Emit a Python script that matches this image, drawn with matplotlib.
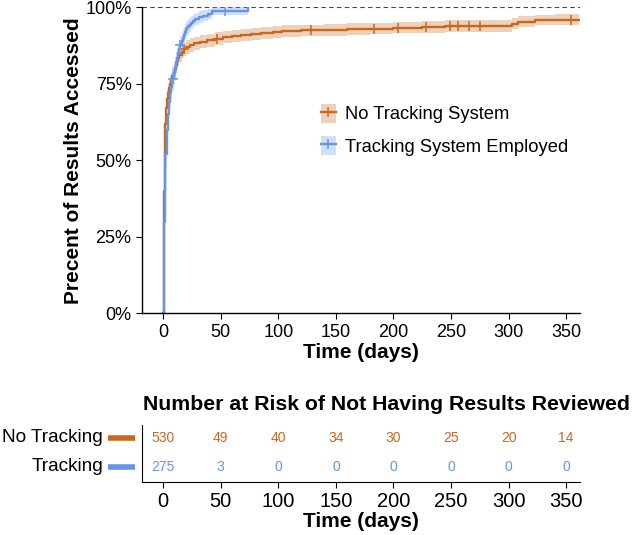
import matplotlib
matplotlib.use('Agg')
import matplotlib.pyplot as plt
from matplotlib.patches import Patch
from matplotlib.lines import Line2D
import numpy as np

plt.rcParams['font.family'] = ['Liberation Sans', 'DejaVu Sans']

ORANGE = '#C8681E'
BLUE = '#6495E8'

# cumulative % accessed, step curves
no_track_t = [0, 0.5, 1, 1.5, 2, 2.5, 3, 4, 5, 6, 7, 8, 9, 10, 11, 12, 13, 14, 16, 18, 20, 23,
              27, 32, 38, 45, 52, 60, 68, 76, 85, 95, 103, 120, 140, 160, 180, 200, 225, 245,
              303, 308, 323, 340]
no_track_p = [0, 15, 40, 55, 62, 67, 70, 72, 73.5, 75, 76.3, 77.5, 78.7, 80, 81.3, 82.5, 83.5,
              84.5, 85.5, 86.3, 87, 87.7, 88.3, 88.8, 89.3, 89.8, 90.3, 90.7, 91, 91.3, 91.6,
              91.9, 92.3, 92.5, 92.7, 92.9, 93.1, 93.4, 93.6, 93.9, 94.7, 95.3, 95.8, 96.0]
no_track_hw = [0, 2.5, 3, 3, 3, 3, 3, 2.8, 2.7, 2.6, 2.5, 2.5, 2.4, 2.4, 2.4, 2.3, 2.3, 2.3,
               2.2, 2.2, 2.2, 2.2, 2.1, 2.1, 2.1, 2.1, 2.0, 2.0, 2.0, 2.0, 2.0, 2.0, 1.9, 1.9,
               1.9, 1.9, 1.9, 1.9, 1.9, 1.9, 1.8, 1.8, 1.7, 1.7]
no_track_end = 361
no_track_cens = [18, 47, 128, 183, 204, 228, 249, 256, 266, 275, 354]

track_t = [0, 0.5, 1, 1.5, 2, 3, 4, 5, 6, 7, 8, 9, 10, 11, 12, 13, 14, 15, 16, 17, 18, 19, 20,
           21, 22, 24, 26, 28, 31, 35, 39, 42, 74]
track_p = [0, 12, 30, 45, 52, 60, 65, 69, 72, 74, 76.5, 78.5, 80.3, 82, 83.5, 85, 86.3, 87.7,
           89, 90, 91, 92, 92.8, 93.5, 94.2, 95, 95.7, 96.2, 96.8, 97.3, 97.8, 98.8, 100]
track_hw = [0, 3, 4, 4.5, 4.5, 4.5, 4.5, 4.3, 4.2, 4, 3.9, 3.8, 3.6, 3.5, 3.4, 3.3, 3.2, 3.0,
            2.9, 2.8, 2.7, 2.6, 2.5, 2.4, 2.3, 2.2, 2.1, 2.0, 1.9, 1.8, 1.6, 1.2, 0]
track_end = 74
track_cens = [8.5, 15, 54]

risk_times = [0, 50, 100, 150, 200, 250, 300, 350]
risk_no_track = [530, 49, 40, 34, 30, 25, 20, 14]
risk_track = [275, 3, 0, 0, 0, 0, 0, 0]

W, H = 632, 535
fig = plt.figure(figsize=(W / 100, H / 100), dpi=100)
ax = fig.add_axes([142 / W, 1 - 313.3 / H, 438 / W, 305.9 / H])


def draw_curve(t, p, hw, end, cens, color):
    t = np.array(t + [end], dtype=float)
    p = np.array(p + [p[-1]], dtype=float) / 100
    hw = np.array(hw + [hw[-1]], dtype=float) / 100
    lo = np.clip(p - hw, 0, 1)
    hi = np.clip(p + hw, 0, 1)
    ax.fill_between(t, lo, hi, step='post', color=color, alpha=0.3, lw=0)
    ax.step(t, p, where='post', color=color, lw=1.7)
    idx = np.searchsorted(t, cens, side='right') - 1
    ax.plot(cens, p[idx], ls='none', marker='+', ms=7, mew=1.1, color=color)


draw_curve(no_track_t, no_track_p, no_track_hw, no_track_end, no_track_cens, ORANGE)
draw_curve(track_t, track_p, track_hw, track_end, track_cens, BLUE)

ax.axhline(1, color='#444444', lw=0.8, ls=(0, (4, 3)), zorder=0)
ax.set_xlim(-18.4, 362)
ax.set_ylim(0, 1)
ax.set_xticks(risk_times)
ax.set_yticks([0, 0.25, 0.5, 0.75, 1])
ax.set_yticklabels(['0%', '25%', '50%', '75%', '100%'])
ax.tick_params(labelsize=13, length=4, width=0.8, colors='black')
for s in ['top', 'right']:
    ax.spines[s].set_visible(False)
for s in ['left', 'bottom']:
    ax.spines[s].set_linewidth(1.0)
ax.set_xlabel('Time (days)', fontsize=15, fontweight='bold', labelpad=2)
ax.set_ylabel('Precent of Results Accessed', fontsize=15, fontweight='bold', labelpad=2)

handles = [
    (Patch(facecolor=ORANGE, alpha=0.3, lw=0), Line2D([], [], color=ORANGE, lw=1.7, marker='+', ms=7, mew=1.1)),
    (Patch(facecolor=BLUE, alpha=0.3, lw=0), Line2D([], [], color=BLUE, lw=1.7, marker='+', ms=7, mew=1.1)),
]
ax.legend(handles, ['No Tracking System', 'Tracking System Employed'], loc='upper left',
          bbox_to_anchor=(0.408, 0.685), frameon=False, fontsize=13.2, handlelength=0.85,
          handleheight=1.2, handletextpad=0.5, labelspacing=0.7, borderpad=0, borderaxespad=0)

# risk table
rt = fig.add_axes([142 / W, 1 - 482 / H, 438 / W, 57 / H])
rt.set_xlim(-18.4, 362)
rt.set_ylim(0.467, 2.44)
for x, n in zip(risk_times, risk_no_track):
    rt.text(x, 2, str(n), color=ORANGE, fontsize=10, ha='center', va='center')
for x, n in zip(risk_times, risk_track):
    rt.text(x, 1, str(n), color=BLUE, fontsize=10, ha='center', va='center')
rt.set_xticks(risk_times)
rt.set_yticks([])
rt.tick_params(labelsize=14.5, length=4, width=0.8, pad=3)
for s in ['top', 'right']:
    rt.spines[s].set_visible(False)
rt.set_xlabel('Time (days)', fontsize=15, fontweight='bold', labelpad=1)
for y, lab, c in [(2, 'No Tracking', ORANGE), (1, 'Tracking', BLUE)]:
    rt.plot([-0.078, -0.016], [y, y], color=c, lw=4, solid_capstyle='butt', clip_on=False,
            transform=rt.get_yaxis_transform())
    rt.text(-0.089, y, lab, fontsize=13.7, ha='right', va='center', transform=rt.get_yaxis_transform())
fig.text(143 / W, 1 - 410 / H, 'Number at Risk of Not Having Results Reviewed', fontsize=15.3,
         fontweight='bold', ha='left', va='baseline')

fig.savefig('out.png', dpi=100)
